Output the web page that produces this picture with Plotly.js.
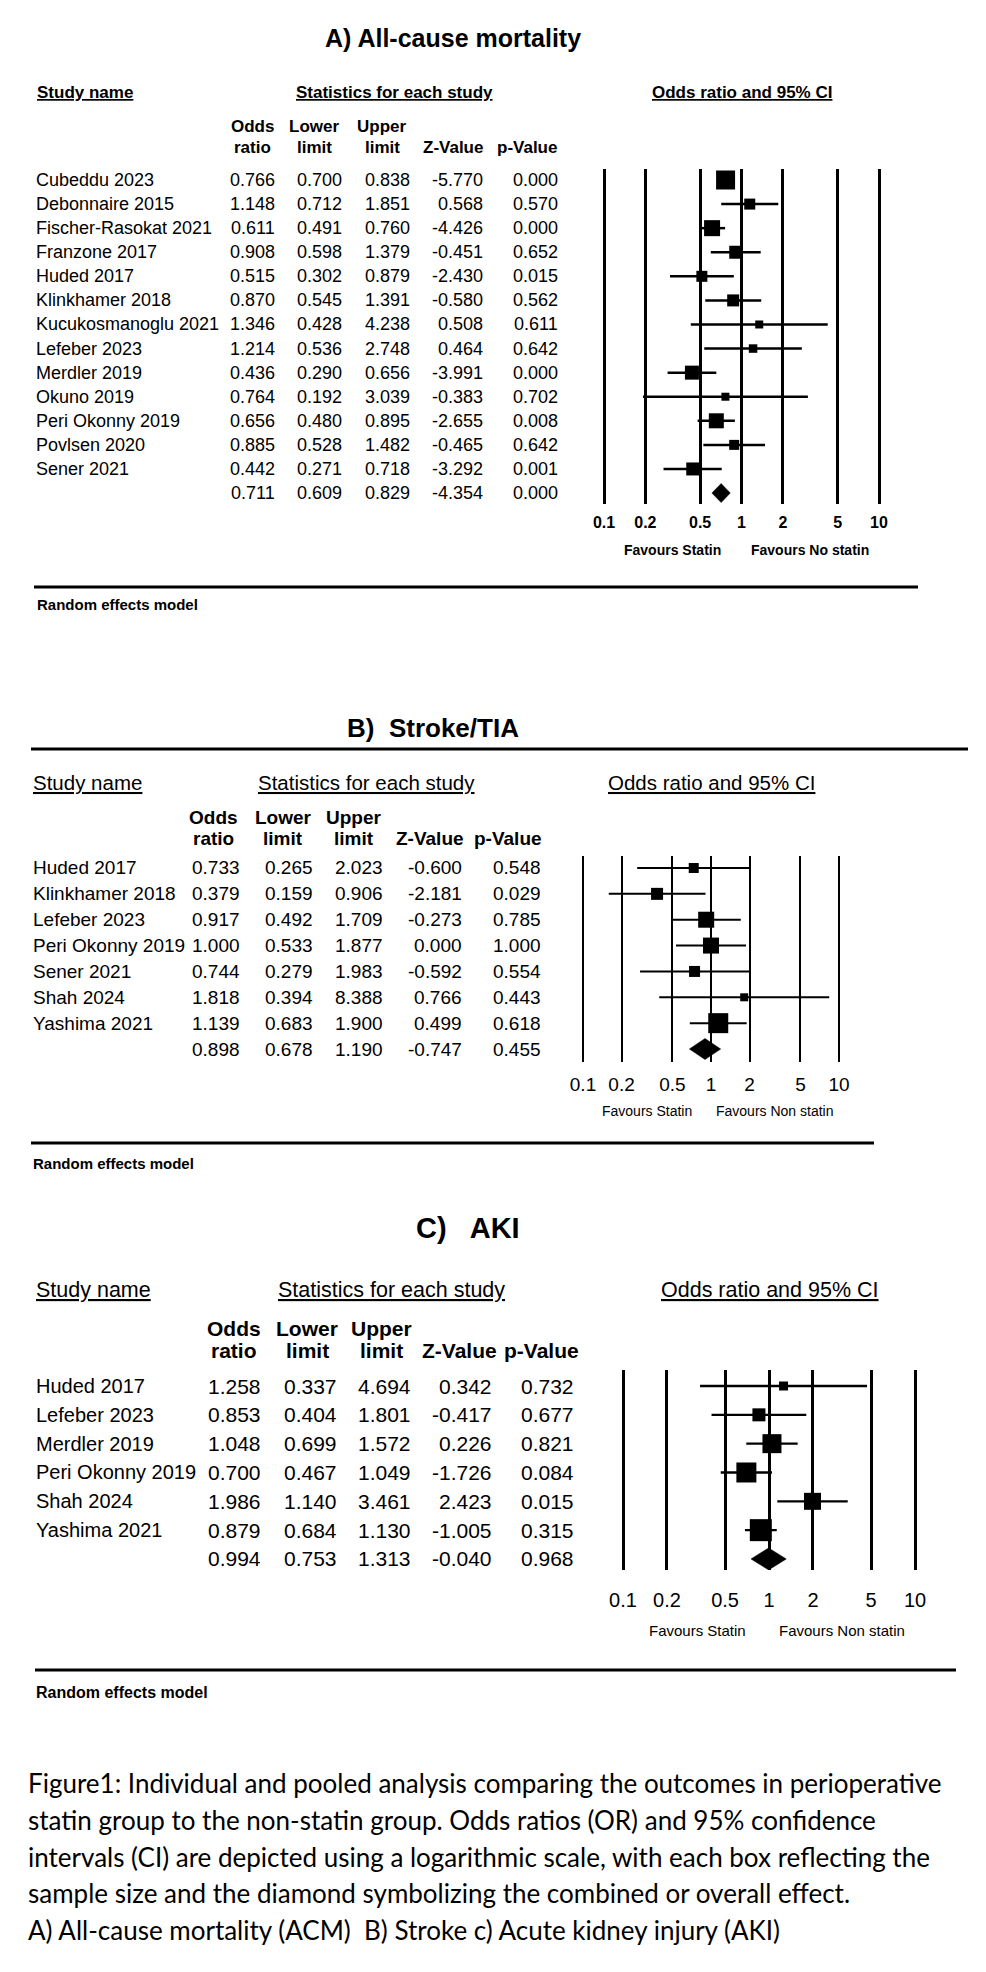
<!DOCTYPE html>
<html><head><meta charset="utf-8">
<script src="https://cdn.plot.ly/plotly-3.0.1.min.js"></script>
<style>html,body{margin:0;padding:0;background:#fff}</style>
</head><body><div id="chart" style="width:986px;height:1972px"></div>
<script>
// ---------------- DATA ----------------
const tickVals = [0.1, 0.2, 0.5, 1, 2, 5, 10];
const tickText = ['0.1', '0.2', '0.5', '1', '2', '5', '10'];

const studiesA = ['Cubeddu 2023','Debonnaire 2015','Fischer-Rasokat 2021','Franzone 2017','Huded 2017','Klinkhamer 2018','Kucukosmanoglu 2021','Lefeber 2023','Merdler 2019','Okuno 2019','Peri Okonny 2019','Povlsen 2020','Sener 2021'];
const oddsA  = [0.766,1.148,0.611,0.908,0.515,0.870,1.346,1.214,0.436,0.764,0.656,0.885,0.442];
const lowerA = [0.700,0.712,0.491,0.598,0.302,0.545,0.428,0.536,0.290,0.192,0.480,0.528,0.271];
const upperA = [0.838,1.851,0.760,1.379,0.879,1.391,4.238,2.748,0.656,3.039,0.895,1.482,0.718];
const zA     = [-5.770,0.568,-4.426,-0.451,-2.430,-0.580,0.508,0.464,-3.991,-0.383,-2.655,-0.465,-3.292];
const pA     = [0.000,0.570,0.000,0.652,0.015,0.562,0.611,0.642,0.000,0.702,0.008,0.642,0.001];
const pooledA = [0.711,0.609,0.829,-4.354,0.000];

const studiesB = ['Huded 2017','Klinkhamer 2018','Lefeber 2023','Peri Okonny 2019','Sener 2021','Shah 2024','Yashima 2021'];
const oddsB  = [0.733,0.379,0.917,1.000,0.744,1.818,1.139];
const lowerB = [0.265,0.159,0.492,0.533,0.279,0.394,0.683];
const upperB = [2.023,0.906,1.709,1.877,1.983,8.388,1.900];
const zB     = [-0.600,-2.181,-0.273,0.000,-0.592,0.766,0.499];
const pB     = [0.548,0.029,0.785,1.000,0.554,0.443,0.618];
const pooledB = [0.898,0.678,1.190,-0.747,0.455];

const studiesC = ['Huded 2017','Lefeber 2023','Merdler 2019','Peri Okonny 2019','Shah 2024','Yashima 2021'];
const oddsC  = [1.258,0.853,1.048,0.700,1.986,0.879];
const lowerC = [0.337,0.404,0.699,0.467,1.140,0.684];
const upperC = [4.694,1.801,1.572,1.049,3.461,1.130];
const zC     = [0.342,-0.417,0.226,-1.726,2.423,-1.005];
const pC     = [0.732,0.677,0.821,0.084,0.015,0.315];
const pooledC = [0.994,0.753,1.313,-0.040,0.968];

const captionLines = [
  'Figure1: Individual and pooled analysis comparing the outcomes in perioperative',
  'statin group to the non-statin group. Odds ratios (OR) and 95% confidence',
  'intervals (CI) are depicted using a logarithmic scale, with each box reflecting the',
  'sample size and the diamond symbolizing the combined or overall effect.',
  'A) All-cause mortality (ACM)  B) Stroke c) Acute kidney injury (AKI)'
];

// ---------------- STYLE (box sizes reflect study weights) ----------------
const boxA = [19,11,16,13,11,12,8,8.5,14,8,15,10,13];
const boxB = [10,12,16,16,11,8,20];
const boxC = [9,13,19,20,17,22];

// ---------------- LAYOUT HELPERS ----------------
const W = 986, H = 1972;
const FONT = 'Liberation Sans, Arial, sans-serif';
const px = v => v / W;
const py = v => 1 - v / H;
const ul = s => '<span style="text-decoration:underline">' + s + '</span>';

const panels = [
  { n:'', names:studiesA, or:oddsA, lo:lowerA, hi:upperA, z:zA, p:pA, pooled:pooledA, box:boxA,
    title:'<b>A) All-cause mortality</b>', titleX:453, titleY:38, titleSize:25,
    xDom:[590,893], l01:604, l10:879, yTop:169, yBot:504, row0:180, step:24.08,
    grid:3, ciW:2.5, dH:9.5,
    font:18, nameSize:18, nameX:34, cols:[277,344,412,485,560],
    headY:93, headSize:17, headBold:true, studyX:35, statX:394, orX:742,
    colY:[127,147], colX:[252,314,382,453,527], colSize:17, colBold:true,
    tickSize:16, tickBold:true, standoff:7,
    favY:550, favX:[672,810], favSize:14, favBold:true, fav:['Favours Statin','Favours No statin'],
    rules:[[34,918,587]], remY:604, remSize:15 },
  { n:'2', names:studiesB, or:oddsB, lo:lowerB, hi:upperB, z:zB, p:pB, pooled:pooledB, box:boxB,
    title:'<b>B)&nbsp; Stroke/TIA</b>', titleX:433, titleY:728, titleSize:26,
    xDom:[570,852], l01:583, l10:839, yTop:856, yBot:1062, row0:868, step:25.86,
    grid:2, ciW:2, dH:10.5,
    font:19, nameSize:19, nameX:31, cols:[242,315,385,464,543],
    headY:783, headSize:20.5, headBold:false, studyX:31, statX:366, orX:711,
    colY:[817,838], colX:[213,283,354,430,508], colSize:19, colBold:true,
    tickSize:19, tickBold:false, standoff:9,
    favY:1111, favX:[647,775], favSize:14, favBold:false, fav:['Favours Statin','Favours Non statin'],
    rules:[[31,968,749],[31,874,1143]], remY:1163, remSize:15 },
  { n:'3', names:studiesC, or:oddsC, lo:lowerC, hi:upperC, z:zC, p:pC, pooled:pooledC, box:boxC,
    title:'<b>C)&nbsp;&nbsp; AKI</b>', titleX:468, titleY:1228, titleSize:29,
    xDom:[610,928], l01:623, l10:915, yTop:1370, yBot:1570, row0:1386, step:28.83,
    grid:3, ciW:2.3, dH:11,
    font:21, nameSize:20, nameX:34, cols:[263,339,413,494,576],
    headY:1290, headSize:21.5, headBold:false, studyX:34, statX:391, orX:770,
    colY:[1328,1350], colX:[234,307,381,459,541], colSize:21, colBold:true,
    tickSize:20, tickBold:false, standoff:16,
    favY:1630, favX:[697,842], favSize:15, favBold:false, fav:['Favours Statin','Favours Non statin'],
    rules:[[35,956,1670]], remY:1692, remSize:16 }
];

const traces = [];
const annotations = [];
const shapes = [];
const layout = {
  width: W, height: H, margin: {l:0, r:0, t:0, b:0}, autosize: false,
  paper_bgcolor: '#fff', plot_bgcolor: 'rgba(0,0,0,0)', showlegend: false,
  font: {family: FONT, color: '#000'},
  annotations, shapes
};

function ann(text, x, y, size, opts) {
  annotations.push(Object.assign({
    text, x, y, xref:'paper', yref:'paper', showarrow:false,
    font:{family:FONT, size, color:'#000'}, xanchor:'center', yanchor:'middle'
  }, opts || {}));
}

panels.forEach(P => {
  const xa = 'x' + P.n, ya = 'y' + P.n;
  const d = (P.l10 - P.l01) / 2;
  layout['xaxis' + P.n] = {
    type:'log', domain:[px(P.xDom[0]), px(P.xDom[1])], anchor: ya,
    range:[-1 - (P.l01 - P.xDom[0]) / d, 1 + (P.xDom[1] - P.l10) / d],
    tickvals: tickVals, ticktext: tickText.map(t => P.tickBold ? '<b>' + t + '</b>' : t),
    showgrid:true, gridcolor:'#000', gridwidth:P.grid, zeroline:false, showline:false,
    ticks:'', ticklabelstandoff:P.standoff,
    tickfont:{family:FONT, size:P.tickSize, color:'#000'}, fixedrange:true
  };
  layout['yaxis' + P.n] = {
    domain:[py(P.yBot), py(P.yTop)], anchor: xa,
    range:[(P.yBot - P.row0) / P.step, (P.yTop - P.row0) / P.step],
    showgrid:false, zeroline:false, showline:false, showticklabels:false, ticks:'', fixedrange:true
  };
  const k = P.names.length;
  // CI lines
  const cx = [], cy = [];
  P.names.forEach((_, i) => { cx.push(P.lo[i], P.hi[i], null); cy.push(i, i, null); });
  traces.push({type:'scatter', mode:'lines', x:cx, y:cy, xaxis:xa, yaxis:ya,
    line:{color:'#000', width:P.ciW}, hoverinfo:'skip'});
  // boxes
  traces.push({type:'scatter', mode:'markers', x:P.or, y:P.names.map((_, i) => i),
    xaxis:xa, yaxis:ya, marker:{symbol:'square', size:P.box, color:'#000', opacity:1, line:{width:0}}});
  // pooled diamond
  const h = P.dH / P.step;
  traces.push({type:'scatter', mode:'lines', fill:'toself', fillcolor:'#000',
    x:[P.pooled[1], P.pooled[0], P.pooled[2], P.pooled[0], P.pooled[1]],
    y:[k, k - h, k, k + h, k], xaxis:xa, yaxis:ya, line:{color:'#000', width:0.5}});

  // table rows
  const rowTxt = (vals, y) => vals.forEach((v, j) => annotations.push({
    text: v.toFixed(3), x: px(P.cols[j]), y, xref:'paper', yref:ya, showarrow:false,
    xanchor:'right', yanchor:'middle', font:{family:FONT, size:P.font, color:'#000'}
  }));
  P.names.forEach((nm, i) => {
    annotations.push({text:nm, x:px(P.nameX), y:i, xref:'paper', yref:ya, showarrow:false,
      xanchor:'left', yanchor:'middle', font:{family:FONT, size:P.nameSize, color:'#000'}});
    rowTxt([P.or[i], P.lo[i], P.hi[i], P.z[i], P.p[i]], i);
  });
  rowTxt(P.pooled, k);

  // headers
  const hb = s => P.headBold ? '<b>' + s + '</b>' : s;
  ann(P.title, px(P.titleX), py(P.titleY), P.titleSize);
  ann(ul(hb('Study name')), px(P.studyX), py(P.headY), P.headSize, {xanchor:'left'});
  ann(ul(hb('Statistics for each study')), px(P.statX), py(P.headY), P.headSize);
  ann(ul(hb('Odds ratio and 95% CI')), px(P.orX), py(P.headY), P.headSize);
  const cb = s => P.colBold ? '<b>' + s + '</b>' : s;
  ['Odds','Lower','Upper'].forEach((t, j) => ann(cb(t), px(P.colX[j]), py(P.colY[0]), P.colSize));
  ['ratio','limit','limit','Z-Value','p-Value'].forEach((t, j) => ann(cb(t), px(P.colX[j]), py(P.colY[1]), P.colSize));
  // favours
  P.fav.forEach((t, j) => ann(P.favBold ? '<b>' + t + '</b>' : t, px(P.favX[j]), py(P.favY), P.favSize));
  // rules and random effects label
  P.rules.forEach(r => shapes.push({type:'line', xref:'paper', yref:'paper',
    x0:px(r[0]), x1:px(r[1]), y0:py(r[2]), y1:py(r[2]), line:{color:'#000', width:3}}));
  ann('<b>Random effects model</b>', px(P.studyX), py(P.remY), P.remSize, {xanchor:'left'});
});

// caption
captionLines.forEach((t, i) => ann(t, px(26), py(1783 + i * 36.8), 26,
  {xanchor:'left', font:{family:'Lato, Carlito, sans-serif', size:26, color:'#000'}}));

Plotly.newPlot('chart', traces, layout, {staticPlot:true, displayModeBar:false});
</script>
</body></html>
